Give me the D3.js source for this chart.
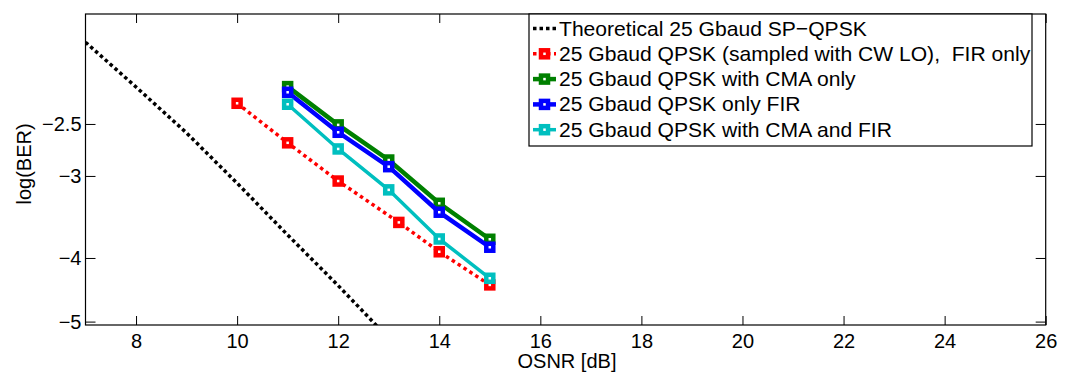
<!DOCTYPE html>
<html>
<head>
<meta charset="utf-8">
<script src="https://cdn.jsdelivr.net/npm/d3@7"></script>
<style>
	body { margin: 0; background: #fff; }
	svg { display: block; font-family: "Liberation Sans", Arial, sans-serif; }
</style>
</head>
<body>
<svg id="chart" width="1068" height="376"></svg>
<script>
// OSNR [dB] and log(BER)
var theoryOsnr = [7, 8, 9, 10, 11, 12, 13];
var theoryBer = [-1.877, -2.196, -2.580, -3.077, -3.690, -4.407, -5.30];

var redOsnr = [10, 11, 12, 13.2, 14, 15];
var redBer = [-2.325, -2.671, -3.054, -3.531, -3.914, -4.396];

var osnr = [11, 12, 13, 14, 15];
var greenBer = [-2.193, -2.508, -2.837, -3.302, -3.746];
var blueBer = [-2.237, -2.574, -2.904, -3.407, -3.852];
var cyanBer = [-2.333, -2.729, -3.150, -3.742, -4.295];

var xTicks = [8, 10, 12, 14, 16, 18, 20, 22, 24, 26];
var yTicks = [-2.5, -3, -4, -5];

var legendLabels = [
	"Theoretical 25 Gbaud SP\u2212QPSK",
	"25 Gbaud QPSK (sampled with CW LO),\u00a0 FIR only",
	"25 Gbaud QPSK with CMA only",
	"25 Gbaud QPSK only FIR",
	"25 Gbaud QPSK with CMA and FIR"
];

var series = [
	{x: theoryOsnr, y: theoryBer, colour: "#000", dash: "3.5,3", width: 3.5, marker: false},
	{x: redOsnr, y: redBer, colour: "#ff0000", dash: "3.5,3.5", width: 3.5, marker: true},
	{x: osnr, y: greenBer, colour: "#008000", dash: null, width: 4.5, marker: true},
	{x: osnr, y: blueBer, colour: "#0000ff", dash: null, width: 4.5, marker: true},
	{x: osnr, y: cyanBer, colour: "#00bfbf", dash: null, width: 3.5, marker: true}
];

var pLeft = 85.5, pRight = 1045.7, pTop = 14, pBottom = 325;

var svg = d3.select("#chart");

var x = d3.scaleLinear().domain([7, 26]).range([pLeft, pRight]);
// the y axis is log(-log(BER)), so a log scale on a negative domain
var y = d3.scaleLog().domain([-1.7, -5.06]).range([pTop, pBottom]);

svg.append("clipPath").attr("id", "plotArea")
	.append("rect")
		.attr("x", pLeft).attr("y", pTop)
		.attr("width", pRight - pLeft).attr("height", pBottom - pTop);

var fmt = function(d) { return String(d).replace("-", "\u2212"); };

// axes, ticks pointing inward, mirrored on the opposite sides
function styleAxis(g){
	g.attr("font-family", null).attr("font-size", null);
	g.select(".domain").remove();
	g.selectAll(".tick line").attr("stroke", "#000").attr("stroke-width", 1);
	g.selectAll(".tick text").attr("fill", "#000").style("font-size", "20px");
}

svg.append("g")
	.attr("transform", "translate(0," + pBottom + ")")
	.call(d3.axisBottom(x).tickValues(xTicks).tickSize(-9).tickPadding(9).tickFormat(fmt))
	.call(styleAxis);
svg.append("g")
	.attr("transform", "translate(0," + pTop + ")")
	.call(d3.axisTop(x).tickValues(xTicks).tickSize(-9).tickFormat(""))
	.call(styleAxis);
svg.append("g")
	.attr("transform", "translate(" + pLeft + ",0)")
	.call(d3.axisLeft(y).tickValues(yTicks).tickSize(-10).tickPadding(4).tickFormat(fmt))
	.call(styleAxis);
svg.append("g")
	.attr("transform", "translate(" + pRight + ",0)")
	.call(d3.axisRight(y).tickValues(yTicks).tickSize(-10).tickFormat(""))
	.call(styleAxis);

svg.append("rect")
	.attr("x", pLeft).attr("y", pTop)
	.attr("width", pRight - pLeft).attr("height", pBottom - pTop)
	.attr("fill", "none").attr("stroke", "#000").attr("stroke-width", 1.2);

// data
var line = d3.line()
	.x(function(d) { return x(d[0]); })
	.y(function(d) { return y(d[1]); });

var plot = svg.append("g").attr("clip-path", "url(#plotArea)");

series.forEach(function(s){
	var pts = s.x.map(function(v, i) { return [v, s.y[i]]; });
	var g = plot.append("g");
	g.append("path")
		.datum(pts)
		.attr("d", line)
		.attr("fill", "none")
		.attr("stroke", s.colour)
		.attr("stroke-width", s.width)
		.attr("stroke-dasharray", s.dash);
	if(s.marker)
		g.selectAll("rect")
			.data(pts)
			.enter()
			.append("rect")
				.attr("x", function(d) { return x(d[0]) - 3.5; })
				.attr("y", function(d) { return y(d[1]) - 3.5; })
				.attr("width", 7)
				.attr("height", 7)
				.attr("fill", "#fff")
				.attr("stroke", s.colour)
				.attr("stroke-width", 4.5);
});

// labels
svg.append("text")
	.attr("x", 567).attr("y", 368)
	.attr("text-anchor", "middle")
	.style("font-size", "20px")
	.text("OSNR [dB]");
svg.append("text")
	.attr("transform", "translate(31,164) rotate(-90)")
	.attr("text-anchor", "middle")
	.style("font-size", "20px")
	.text("log(BER)");

// legend
var legend = svg.append("g");
legend.append("rect")
	.attr("x", 529).attr("y", pTop)
	.attr("width", 1032 - 529).attr("height", 146 - pTop)
	.attr("fill", "#fff").attr("stroke", "#000").attr("stroke-width", 1.2);

series.forEach(function(s, i){
	var cy = 28.5 + i * 25.3;
	var row = legend.append("g");
	row.append("line")
		.attr("x1", 533).attr("x2", 556)
		.attr("y1", cy).attr("y2", cy)
		.attr("stroke", s.colour)
		.attr("stroke-width", s.width)
		.attr("stroke-dasharray", s.dash);
	if(s.marker)
		row.append("rect")
			.attr("x", 544.5 - 3.5).attr("y", cy - 3.5)
			.attr("width", 7).attr("height", 7)
			.attr("fill", "#fff")
			.attr("stroke", s.colour)
			.attr("stroke-width", 4.5);
	row.append("text")
		.attr("x", 559).attr("y", cy + 7)
		.style("font-size", "21.1px")
		.text(legendLabels[i]);
});
</script>
</body>
</html>
